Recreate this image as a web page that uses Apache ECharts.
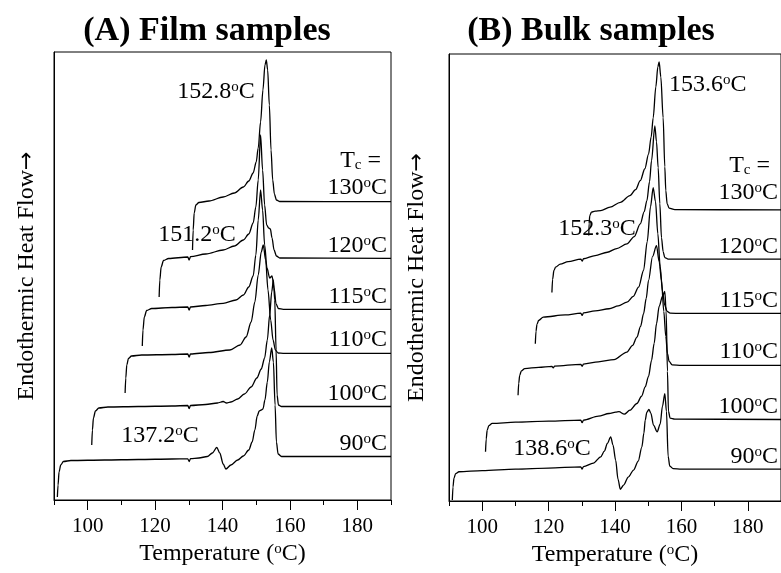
<!DOCTYPE html>
<html>
	<head>
		<meta charset="utf-8">
		<title>DSC melting curves</title>
	</head>
	<body style="margin:0;background:#fff;">
		<div id="main" style="width: 781px;height:573px;"></div>
	</body>
	<script src="https://cdn.jsdelivr.net/npm/echarts@6/dist/echarts.min.js"></script>
	<script type="text/javascript">
		'use strict'

		// temperature (oC), heat flow (arbitrary, curves offset vertically)
		var filmTc90 = [[91.0, 3], [91.2, 15], [91.5, 28], [92.0, 35], [92.8, 38.5], [95, 39.5], [105, 40], [115, 40.5], [125, 41], [129.7, 41.2], [130.1, 38.5], [130.5, 41.3], [133, 42], [135.5, 43.5], [137, 47], [138.3, 52.5], [139.2, 47], [140.2, 36], [141.0, 31], [142.5, 35], [144.5, 40], [146.2, 44], [147.8, 50], [148.8, 58], [149.6, 70], [150.3, 84], [150.9, 89], [151.5, 90], [152.0, 91], [152.6, 100], [153.3, 118], [153.9, 138], [154.6, 152], [155.1, 138], [155.6, 95], [156.0, 58], [156.5, 46], [157.5, 43.5], [160, 43.5], [190, 43.5]];
		var filmTc100 = [[101.2, 55], [101.4, 70], [101.7, 82], [102.3, 89], [103.3, 92], [106, 93], [115, 93.5], [125, 94], [129.7, 94.5], [130.1, 91.5], [130.5, 94.5], [135, 95.5], [138.5, 97], [140.2, 98.5], [141.2, 97], [142.5, 98], [144.5, 101], [146.5, 106], [148.5, 113], [150.2, 122], [151.5, 131], [152.5, 142], [153.3, 160], [154.0, 185], [154.6, 208], [155.1, 220], [155.5, 200], [155.9, 150], [156.2, 105], [156.6, 95], [157.5, 93.5], [190, 93.5]];
		var filmTc110 = [[111.1, 107], [111.3, 122], [111.6, 135], [112.1, 141.5], [113, 144], [116, 145], [125, 145.5], [129.7, 146], [130.1, 143], [130.5, 146], [136, 147.5], [142.2, 150], [145.2, 155], [147.0, 163], [148.5, 178], [149.6, 198], [150.6, 225], [151.5, 248], [152.1, 255], [152.8, 240], [153.5, 210], [154.3, 180], [155.0, 160], [155.7, 150], [156.5, 147], [158, 146.7], [190, 146.7]];
		var filmTc115 = [[116.2, 154], [116.4, 170], [116.8, 183], [117.5, 189.5], [119, 191.5], [125, 192.5], [129.7, 193], [130.1, 190], [130.5, 193], [135, 194.5], [140.2, 196.7], [144, 200], [146.2, 205], [147.8, 213], [149.1, 224], [149.9, 245], [150.6, 280], [151.3, 310], [151.9, 290], [152.5, 255], [153.2, 232], [154.0, 222], [154.7, 224], [155.3, 212], [155.9, 196], [156.6, 191.5], [158, 190.7], [190, 190.7]];
		var filmTc120 = [[121.2, 203], [121.4, 220], [121.8, 233], [122.5, 239.5], [124, 241.5], [129.7, 243], [130.1, 240], [130.5, 243.3], [135, 246], [140.2, 250], [143.5, 254], [146.2, 260], [147.8, 266], [149.1, 277], [149.9, 293], [150.6, 320], [151.3, 365], [151.9, 330], [152.5, 295], [153.1, 275], [153.7, 272], [154.2, 271], [154.7, 262], [155.3, 250], [156.0, 244], [157, 242], [190, 241.7]];
		var filmTc130 = [[131.1, 250], [131.3, 270], [131.6, 287], [132.1, 295], [133, 297.5], [136, 299], [140.2, 303], [143.5, 307], [146.2, 313], [147.8, 319], [149.1, 327], [150.0, 338], [150.6, 352], [151.3, 378], [152.0, 410], [152.6, 435], [153.0, 440], [153.4, 430], [153.9, 395], [154.4, 350], [154.9, 320], [155.4, 306], [156.0, 300], [157.0, 298.5], [190, 298.3]];

		var bulkTc90 = [[91.0, 1], [91.2, 14], [91.5, 23], [92.0, 27.5], [93, 29.3], [100, 30.5], [110, 32], [120, 33], [129.7, 34.3], [130.1, 32], [130.5, 34.5], [133.5, 38], [135.7, 44.3], [136.8, 50], [137.7, 57.7], [138.7, 64.3], [139.4, 56], [140.2, 41], [140.9, 22], [141.6, 11.7], [142.6, 16], [144.0, 24], [145.6, 31], [147.0, 40], [148.1, 54.3], [148.7, 68], [149.1, 81], [149.6, 89], [150.2, 91.7], [150.8, 88], [151.6, 76], [152.7, 69.3], [153.6, 77], [154.3, 95], [155.0, 107.7], [155.5, 90], [156.0, 45], [156.5, 35], [157.5, 32.5], [160, 32], [190, 32]];
		var bulkTc100 = [[101.0, 49.3], [101.2, 62], [101.5, 71], [102.0, 75.5], [103, 77.7], [110, 79], [120, 80], [129.7, 81], [130.1, 78.5], [130.5, 81], [135, 85], [138.2, 87.7], [140.2, 89], [141.2, 89.5], [142.8, 87], [144.5, 91], [146.6, 97.7], [148, 105], [149.1, 114.3], [150.1, 125], [151.0, 141], [151.8, 158], [152.5, 177.7], [153.3, 195], [154.3, 205], [155.0, 210], [155.4, 190], [155.8, 130], [156.1, 90], [156.6, 83], [158, 82], [190, 81.7]];
		var bulkTc110 = [[110.8, 106], [111.0, 118], [111.3, 126], [111.8, 130.5], [112.8, 132.7], [117, 134], [121.0, 135], [121.4, 133.5], [121.8, 135.2], [129.7, 137], [130.1, 135], [130.5, 137.2], [135, 139.5], [139.7, 141.7], [143.6, 149.3], [145.3, 156], [146.6, 164.3], [147.7, 175], [148.6, 187.7], [149.4, 203], [150.1, 221], [151.3, 245], [152.5, 256], [153.3, 240], [154.0, 221], [154.7, 190], [155.3, 165], [155.8, 148], [156.3, 140], [157.2, 136.5], [160, 136], [190, 136]];
		var bulkTc115 = [[116.0, 157.7], [116.2, 170], [116.5, 177], [117.0, 181], [118.4, 184.3], [125, 186.5], [129.7, 188.3], [130.1, 186], [130.5, 188.5], [134, 190.5], [138.2, 192.7], [141, 195.5], [143.6, 199.3], [145.5, 205], [147.1, 214.3], [148.6, 231], [149.7, 260], [150.7, 295], [151.5, 314], [152.2, 300], [152.9, 268], [153.6, 235], [154.3, 210], [155.0, 196], [155.7, 190], [156.6, 188.2], [160, 188], [190, 188]];
		var bulkTc120 = [[121.0, 209], [121.2, 222], [121.6, 231], [122.1, 234.3], [123.5, 237.5], [125.9, 240], [129.7, 242.5], [130.1, 240.5], [130.5, 242.8], [134, 246], [137.7, 249.3], [140.5, 253], [143.6, 257.7], [145.8, 265], [147.6, 277.7], [148.8, 290], [149.6, 301], [150.4, 320], [151.0, 341], [152.0, 376], [152.5, 360], [153.0, 334], [153.5, 298], [154.0, 264], [154.5, 250], [155.0, 244], [156.0, 242.5], [160, 242.5], [190, 242.5]];
		var bulkTc130 = [[132.1, 266], [132.2, 278], [132.4, 286], [132.9, 289.5], [134, 290.5], [135.7, 291], [138.5, 294.5], [141.6, 299.3], [144.5, 306], [146.2, 312], [147.6, 321], [149.0, 333], [150.1, 347.7], [150.9, 365], [151.5, 384], [152.3, 415], [152.9, 435], [153.3, 440], [153.8, 425], [154.5, 384], [155.0, 335], [155.3, 311], [155.7, 298], [156.3, 293.5], [158, 292], [190, 291.7]];

		var majorTicks = [100, 120, 140, 160, 180];
		var minorTicks = [90, 110, 130, 150, 170, 190];
		var panelTitles = ['(A) Film samples', '(B) Bulk samples'];
		var tcLabels = ['130', '120', '115', '110', '100', '90'];
		var filmPeaks = ['152.8', '151.2', '137.2'];
		var bulkPeaks = ['153.6', '152.3', '138.6'];

		var serif = '"Liberation Serif", "Times New Roman", serif';
		var supRich = {
			s: { fontSize: 15, fontFamily: serif, verticalAlign: 'top', color: '#000' },
			c: { fontSize: 15, fontFamily: serif, verticalAlign: 'bottom', color: '#000' },
			a: { fontSize: 22, fontFamily: '"DejaVu Sans", sans-serif', color: '#000' }
		};
		function deg(v) { return v + '{s|o}C'; }

		function txt(x, y, text, align, size, bold) {
			return {
				type: 'text', x: x, y: y, silent: true,
				style: {
					text: text, fill: '#000', align: align || 'center', verticalAlign: 'middle',
					fontSize: size || 24, fontFamily: serif, fontWeight: bold ? 'bold' : 'normal',
					rich: supRich
				}
			};
		}

		var myChart = echarts.init(document.getElementById('main'));

		function xAxes(grid) {
			return [{
				gridIndex: grid, type: 'value', min: 90, max: 190, position: 'bottom',
				axisLine: { lineStyle: { color: '#000', width: 1 } },
				axisTick: { customValues: majorTicks, length: 10, inside: false, lineStyle: { color: '#000' } },
				axisLabel: { customValues: majorTicks, color: '#000', fontSize: 21, fontFamily: serif, margin: 16 },
				splitLine: { show: false },
				name: 'Temperature ({s|o}C)', nameLocation: 'middle', nameGap: 38,
				nameTextStyle: { color: '#000', fontSize: 24, fontFamily: serif, rich: supRich }
			}, {
				gridIndex: grid, type: 'value', min: 90, max: 190, position: 'bottom',
				axisLine: { show: false },
				axisTick: { customValues: minorTicks, length: 5, lineStyle: { color: '#000' } },
				axisLabel: { show: false },
				splitLine: { show: false }
			}];
		}
		function yAxis(grid, gap) {
			return {
				gridIndex: grid, type: 'value', min: 0, max: 448,
				axisLine: { show: true, lineStyle: { color: '#000' } },
				axisTick: { show: false }, axisLabel: { show: false }, splitLine: { show: false },
				name: 'Endothermic Heat Flow{a|\u2192}', nameLocation: 'middle', nameRotate: 90, nameGap: gap,
				nameTextStyle: { color: '#000', fontSize: 24, fontFamily: serif, rich: supRich }
			};
		}
		function curve(data, grid) {
			return {
				type: 'line', data: data, xAxisIndex: grid * 2, yAxisIndex: grid,
				showSymbol: false, smooth: 0.3, smoothMonotone: 'x', animation: false,
				lineStyle: { color: '#000', width: 1.3 }
			};
		}

		var film = [filmTc90, filmTc100, filmTc110, filmTc115, filmTc120, filmTc130];
		var bulk = [bulkTc90, bulkTc100, bulkTc110, bulkTc115, bulkTc120, bulkTc130];
		var series = film.map(function (d) { return curve(d, 0); })
			.concat(bulk.map(function (d) { return curve(d, 1); }));

		var filmRightY = [188, 246, 297, 340, 394, 444];
		var bulkRightY = [193, 247, 301, 352, 407, 457];
		var graphics = [
			txt(207, 31, panelTitles[0], 'center', 34, true),
			txt(591, 31, panelTitles[1], 'center', 34, true),
			txt(216, 92, deg(filmPeaks[0])),
			txt(197, 235, deg(filmPeaks[1])),
			txt(160, 436, deg(filmPeaks[2])),
			txt(669, 85, deg(bulkPeaks[0]), 'left'),
			txt(597, 229, deg(bulkPeaks[1])),
			txt(552, 449, deg(bulkPeaks[2])),
			txt(381, 161, 'T{c|c} =', 'right'),
			txt(770, 166, 'T{c|c} =', 'right')
		];
		tcLabels.forEach(function (t, i) {
			graphics.push(txt(387, filmRightY[i], deg(t), 'right'));
			graphics.push(txt(778, bulkRightY[i], deg(t), 'right'));
		});

		var option = {
			backgroundColor: '#fff',
			animation: false,
			grid: [
				{ left: 54, top: 52, width: 337, height: 448, show: true, borderColor: '#000', borderWidth: 1, backgroundColor: 'transparent' },
				{ left: 449, top: 54, width: 337, height: 447, show: true, borderColor: '#000', borderWidth: 1, backgroundColor: 'transparent' }
			],
			xAxis: xAxes(0).concat(xAxes(1)),
			yAxis: [yAxis(0, 15), yAxis(1, 20)],
			series: series,
			graphic: graphics
		};
		myChart.setOption(option);
	</script>
</html>
